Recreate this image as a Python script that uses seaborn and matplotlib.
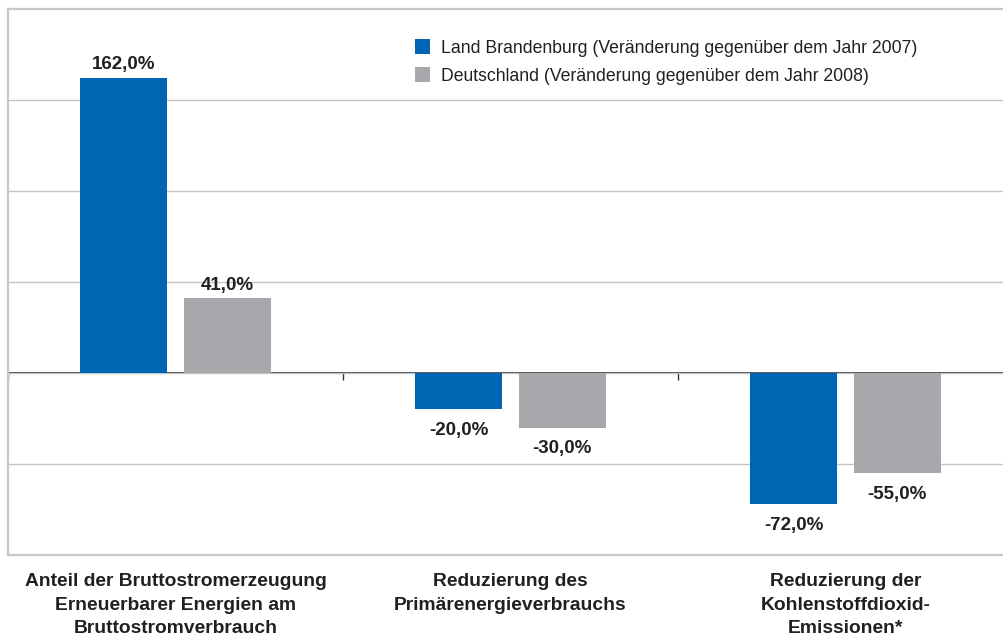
import pandas as pd
import matplotlib.pyplot as plt
import seaborn as sns

# data
categories = [
    "Anteil der Bruttostromerzeugung\nErneuerbarer Energien am\nBruttostromverbrauch",
    "Reduzierung des\nPrimärenergieverbrauchs",
    "Reduzierung der\nKohlenstoffdioxid-\nEmissionen*",
]
series_names = [
    "Land Brandenburg (Veränderung gegenüber dem Jahr 2007)",
    "Deutschland (Veränderung gegenüber dem Jahr 2008)",
]
brandenburg = [162.0, -20.0, -72.0]
deutschland = [41.0, -30.0, -55.0]

df = pd.DataFrame({
    "Kategorie": categories * 2,
    "Region": [series_names[0]] * 3 + [series_names[1]] * 3,
    "Wert": brandenburg + deutschland,
})

sns.set_theme(style="white")
plt.rcParams["font.family"] = ["Liberation Sans", "DejaVu Sans"]

TEXT = "#231f20"
BLUE = "#0066b3"
GREY = "#a7a8ab"
FRAME = "#c8c8c8"

fig = plt.figure(figsize=(10.04, 6.37), dpi=100)
ax = fig.add_axes([8 / 1004, 1 - 555 / 637, 1005 / 1004, 546 / 637])

sns.barplot(
    data=df, x="Kategorie", y="Wert", hue="Region",
    palette=[BLUE, GREY], width=0.62, gap=0.16,
    errorbar=None, saturation=1, linewidth=0, ax=ax,
)

ax.set_xlim(-0.5, 2.5)
ax.set_ylim(-100, 200)
ax.set_xlabel("")
ax.set_ylabel("")

# value labels (positive above, negative below the bar)
def fmt(v):
    return f"{v:.1f}%".replace(".", ",")

for cont in ax.containers:
    vals = cont.datavalues
    ax.bar_label(cont, labels=[fmt(v) if v >= 0 else "" for v in vals],
                 padding=3.5, fontsize=13.5, fontweight="bold", color=TEXT)
    ax.bar_label(cont, labels=[fmt(v) if v < 0 else "" for v in vals],
                 padding=9, fontsize=13.5, fontweight="bold", color=TEXT)

# grid / frame
ax.set_yticks([-50, 0, 50, 100, 150])
ax.set_yticklabels([])
ax.tick_params(axis="y", length=0)
ax.grid(True, axis="y", color="#c4c4c4", linewidth=1)
ax.set_axisbelow(True)
for side in ["left", "top", "bottom"]:
    ax.spines[side].set_color(FRAME)
    ax.spines[side].set_linewidth(1.6)
ax.spines["right"].set_visible(False)

# category labels
ax.tick_params(axis="x", length=0, pad=13)
ax.set_xticks(range(len(categories)))
ax.set_xticklabels(categories, fontsize=13.9, fontweight="bold", color=TEXT, linespacing=1.5)

# zero line with separator ticks
zero_ax = ax.secondary_xaxis(1 / 3)
zero_ax.set_xticks([-0.5, 0.5, 1.5, 2.5])
zero_ax.tick_params(axis="x", direction="out", length=5, width=1, color="#333333", labelbottom=False)
zero_ax.spines["bottom"].set_color("#333333")
zero_ax.spines["bottom"].set_linewidth(1.3)

# legend
handles, labels = ax.get_legend_handles_labels()
ax.legend(handles, labels, loc="upper left", bbox_to_anchor=(415 / 1004, 1 - 39 / 637),
          bbox_transform=fig.transFigure, frameon=False, fontsize=12.7,
          handlelength=0.85, handleheight=0.95, handletextpad=0.65,
          labelspacing=0.6, borderpad=0, borderaxespad=0,
          labelcolor=TEXT)

plt.savefig("out.png", dpi=100)
plt.close()
